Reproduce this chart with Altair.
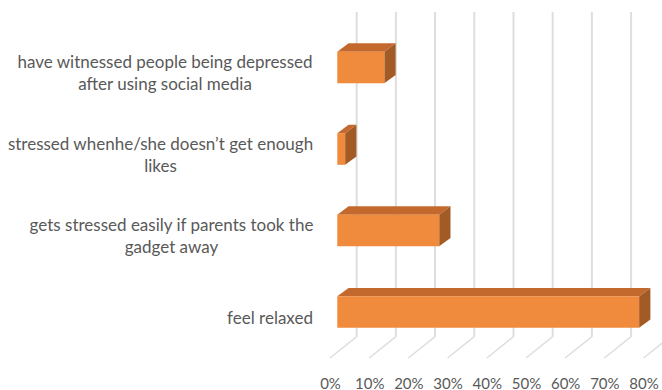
import altair as alt
import pandas as pd

# ---- data ----
categories = [
    "have witnessed people being depressed|after using social media",
    "stressed whenhe/she doesn\u2019t get enough|likes",
    "gets stressed easily if parents took the|gadget away",
    "feel relaxed",
]
values = [12, 2, 26, 77]          # percent
ticks = [0, 10, 20, 30, 40, 50, 60, 70, 80]

# distance from plot edge to the centre of each (centred) label block, px
label_centre_pad = [157.5, 162, 151, 52.5]

# ---- 3D look (oblique projection) style constants, in data units ----
XO = 1.86      # bar front starts a bit right of the front floor edge
DX = 2.88      # bar depth, horizontal
DY = 0.102     # bar depth, vertical (category units)
H = 0.194      # half bar thickness
GX = 6.81      # wall depth, horizontal
WALL_TOP = -0.68
FLOOR_BACK = 3.303
FLOOR_FRONT = 3.564

FRONT = "#F08A3C"
TOP = "#C4692D"
SIDE = "#A35B25"
GRID = "#DEDEDE"
TEXT = "#595959"
FONT = "Lato"

idx = list(range(len(categories)))

front = pd.DataFrame({
    "cat": idx,
    "x": [XO] * len(values),
    "x2": [XO + v for v in values],
    "y": [i - H for i in idx],
    "y2": [i + H for i in idx],
})

top_rows = []
side_rows = []
for i, v in zip(idx, values):
    top_rows.append({"cat": i, "y": i - H, "x": XO, "x2": XO + v})
    top_rows.append({"cat": i, "y": i - H - DY, "x": XO + DX, "x2": XO + v + DX})
    side_rows.append({"cat": i, "x": XO + v, "y": i - H, "y2": i + H})
    side_rows.append({"cat": i, "x": XO + v + DX, "y": i - H - DY, "y2": i + H - DY})
top = pd.DataFrame(top_rows)
side = pd.DataFrame(side_rows)

wall = pd.DataFrame({
    "x": [t + GX for t in ticks],
    "y": [WALL_TOP] * len(ticks),
    "y2": [FLOOR_BACK] * len(ticks),
})
floor = pd.DataFrame({
    "x": [t + GX for t in ticks],
    "x2": ticks,
    "y": [FLOOR_BACK] * len(ticks),
    "y2": [FLOOR_FRONT] * len(ticks),
})

xscale = alt.Scale(domain=[-2.04, 84.7], nice=False, zero=False)
yscale = alt.Scale(domain=[-0.828, 3.687], nice=False, zero=False, reverse=True)


def label_lines(c):
    return "[" + ",".join("'" + p + "'" for p in c.split("|")) + "]"


label_array = "[" + ",".join(label_lines(c) for c in categories) + "]"
two_line = "[" + ",".join("true" if "|" in c else "false" for c in categories) + "]"

x_axis = alt.Axis(
    values=ticks, labelExpr="datum.value + '%'", title=None, grid=False,
    domain=False, ticks=False, labelFont=FONT, labelFontSize=15,
    labelColor=TEXT, labelPadding=8, labelFlush=False,
)
y_axis = alt.Axis(
    values=idx, labelExpr=label_array + "[round(datum.value)]", title=None,
    grid=False, domain=False, ticks=False, labelFont=FONT, labelFontSize=17,
    labelColor=TEXT, labelLimit=400, labelAlign="center",
    labelPadding={
        "condition": [
            {"test": f"round(datum.value) == {i}", "value": p}
            for i, p in zip(idx[:-1], label_centre_pad[:-1])
        ],
        "value": label_centre_pad[-1],
    },
    labelOffset={"condition": {"test": two_line + "[round(datum.value)]", "value": -4.5},
                 "value": 6.5},
    labelLineHeight=22, labelOverlap=False,
)

wall_layer = alt.Chart(wall).mark_rule(color=GRID, strokeWidth=2, clip=True).encode(
    x=alt.X("x:Q", scale=xscale, axis=x_axis),
    y=alt.Y("y:Q", scale=yscale, axis=y_axis),
    y2="y2:Q",
)
floor_layer = alt.Chart(floor).mark_rule(color=GRID, strokeWidth=1.5, clip=True).encode(
    x=alt.X("x:Q", scale=xscale),
    x2="x2:Q",
    y=alt.Y("y:Q", scale=yscale),
    y2="y2:Q",
)
top_layer = alt.Chart(top).mark_area(color=TOP, orient="horizontal", clip=True).encode(
    y=alt.Y("y:Q", scale=yscale),
    x=alt.X("x:Q", scale=xscale),
    x2="x2:Q",
    detail="cat:N",
)
side_layer = alt.Chart(side).mark_area(color=SIDE, orient="vertical", clip=True).encode(
    x=alt.X("x:Q", scale=xscale),
    y=alt.Y("y:Q", scale=yscale),
    y2="y2:Q",
    detail="cat:N",
)
front_layer = alt.Chart(front).mark_rect(color=FRONT, clip=True).encode(
    x=alt.X("x:Q", scale=xscale),
    x2="x2:Q",
    y=alt.Y("y:Q", scale=yscale),
    y2="y2:Q",
)

chart = alt.layer(wall_layer, floor_layer, top_layer, side_layer, front_layer).properties(
    width=340,
    height=368,
    padding={"left": 322, "top": 0, "right": 0, "bottom": 22},
    autosize=alt.AutoSizeParams(type="none"),
    background="white",
).configure_view(stroke=None)

chart.save("out.html", embed_options={"renderer": "svg", "actions": False})
